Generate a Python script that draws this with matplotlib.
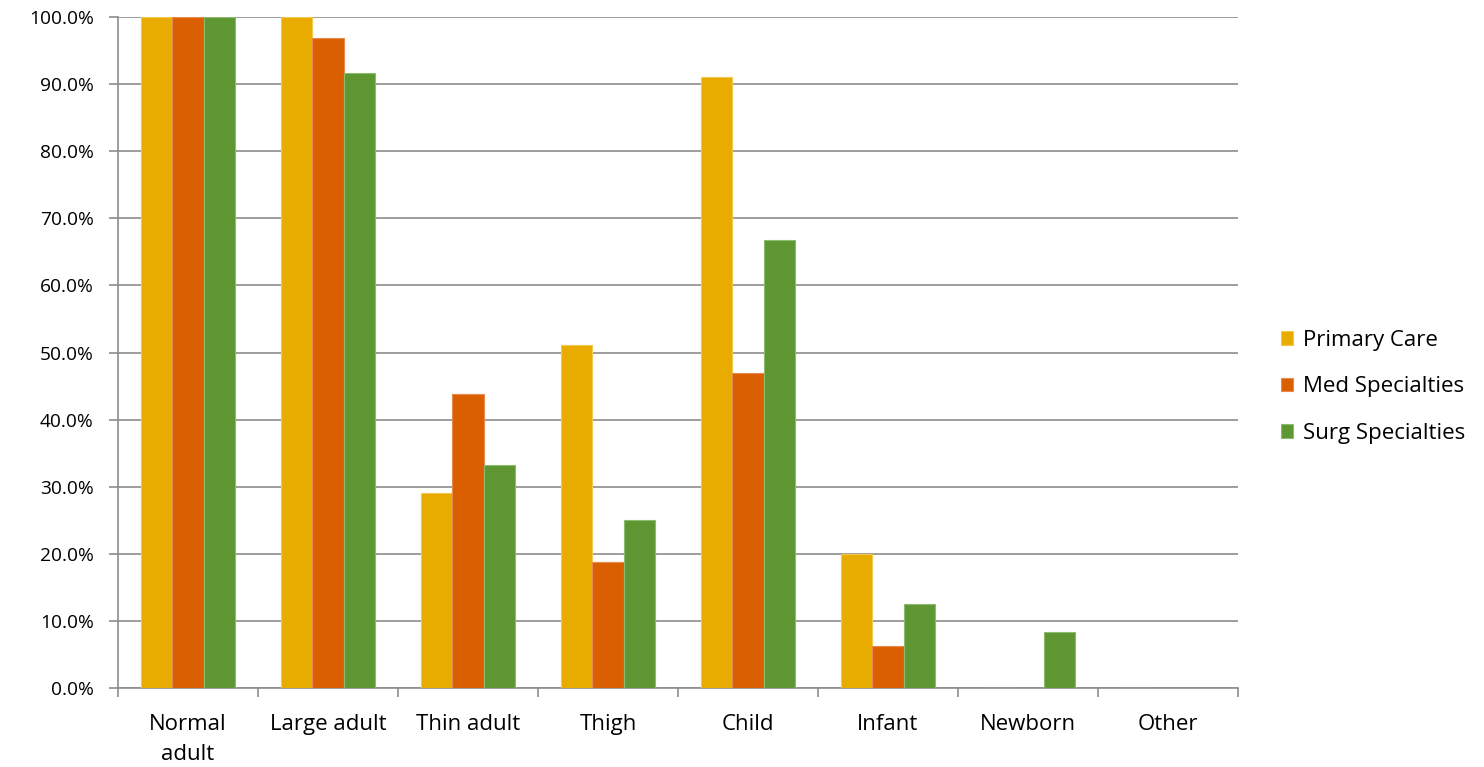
import matplotlib
matplotlib.use("Agg")
import matplotlib.pyplot as plt
import numpy as np
from matplotlib.ticker import FuncFormatter, MultipleLocator

plt.rcParams['font.family'] = ['Open Sans', 'DejaVu Sans']

categories = ["Normal\nadult", "Large adult", "Thin adult", "Thigh", "Child", "Infant", "Newborn", "Other"]
primary_care = [100.0, 100.0, 29.0, 51.1, 91.1, 20.0, 0.0, 0.0]
med_specialties = [100.0, 96.9, 43.8, 18.8, 46.9, 6.3, 0.0, 0.0]
surg_specialties = [100.0, 91.7, 33.3, 25.0, 66.7, 12.5, 8.3, 0.0]

series_names = ["Primary Care", "Med Specialties", "Surg Specialties"]
series_colors = ["#E8AB00", "#DA5F00", "#5E9732"]
series_edges = ["#F2C84D", "#E88A4D", "#8DBA6E"]

fig = plt.figure(figsize=(14.84, 7.67), dpi=100)
ax = fig.add_axes([118 / 1484, 1 - 688 / 767, (1238 - 118) / 1484, (688 - 17) / 767])

x = np.arange(len(categories))
width = 1 / 4.5
for i, (vals, name, col, ec) in enumerate(zip([primary_care, med_specialties, surg_specialties],
                                              series_names, series_colors, series_edges)):
    ax.bar(x + (i - 1) * width, vals, width, color=col, edgecolor=ec, linewidth=0.8,
           label=name, zorder=3)

ax.set_xlim(-0.5, len(categories) - 0.5)
ax.set_ylim(0, 100)
ax.yaxis.set_major_locator(MultipleLocator(10))
ax.yaxis.set_major_formatter(FuncFormatter(lambda v, p: f"{v:.1f}%"))
ax.grid(axis='y', color='#8C8C8C', linewidth=1.2, zorder=0)

ax.set_xticks(x)
ax.set_xticklabels(categories, linespacing=1.6)
ax.set_xticks(np.arange(len(categories) + 1) - 0.5, minor=True)
ax.tick_params(axis='x', which='major', length=0, pad=18.5, labelsize=16, colors='black')
ax.tick_params(axis='x', which='minor', length=6.5, width=1.2, color='#8C8C8C', direction='out')
ax.tick_params(axis='y', length=6.5, width=1.2, color='#8C8C8C', labelsize=13.8, pad=11)

for s in ['top', 'right']:
    ax.spines[s].set_visible(False)
for s in ['left', 'bottom']:
    ax.spines[s].set_color('#8C8C8C')
    ax.spines[s].set_linewidth(1.2)

leg = fig.legend(loc='center left', bbox_to_anchor=(1281 / 1484, 1 - 387 / 767),
                 frameon=False, fontsize=16, handlelength=0.55, handleheight=0.55,
                 handletextpad=0.45, labelspacing=1.15, borderpad=0, borderaxespad=0)

fig.savefig("out.png", dpi=100, facecolor='white')
